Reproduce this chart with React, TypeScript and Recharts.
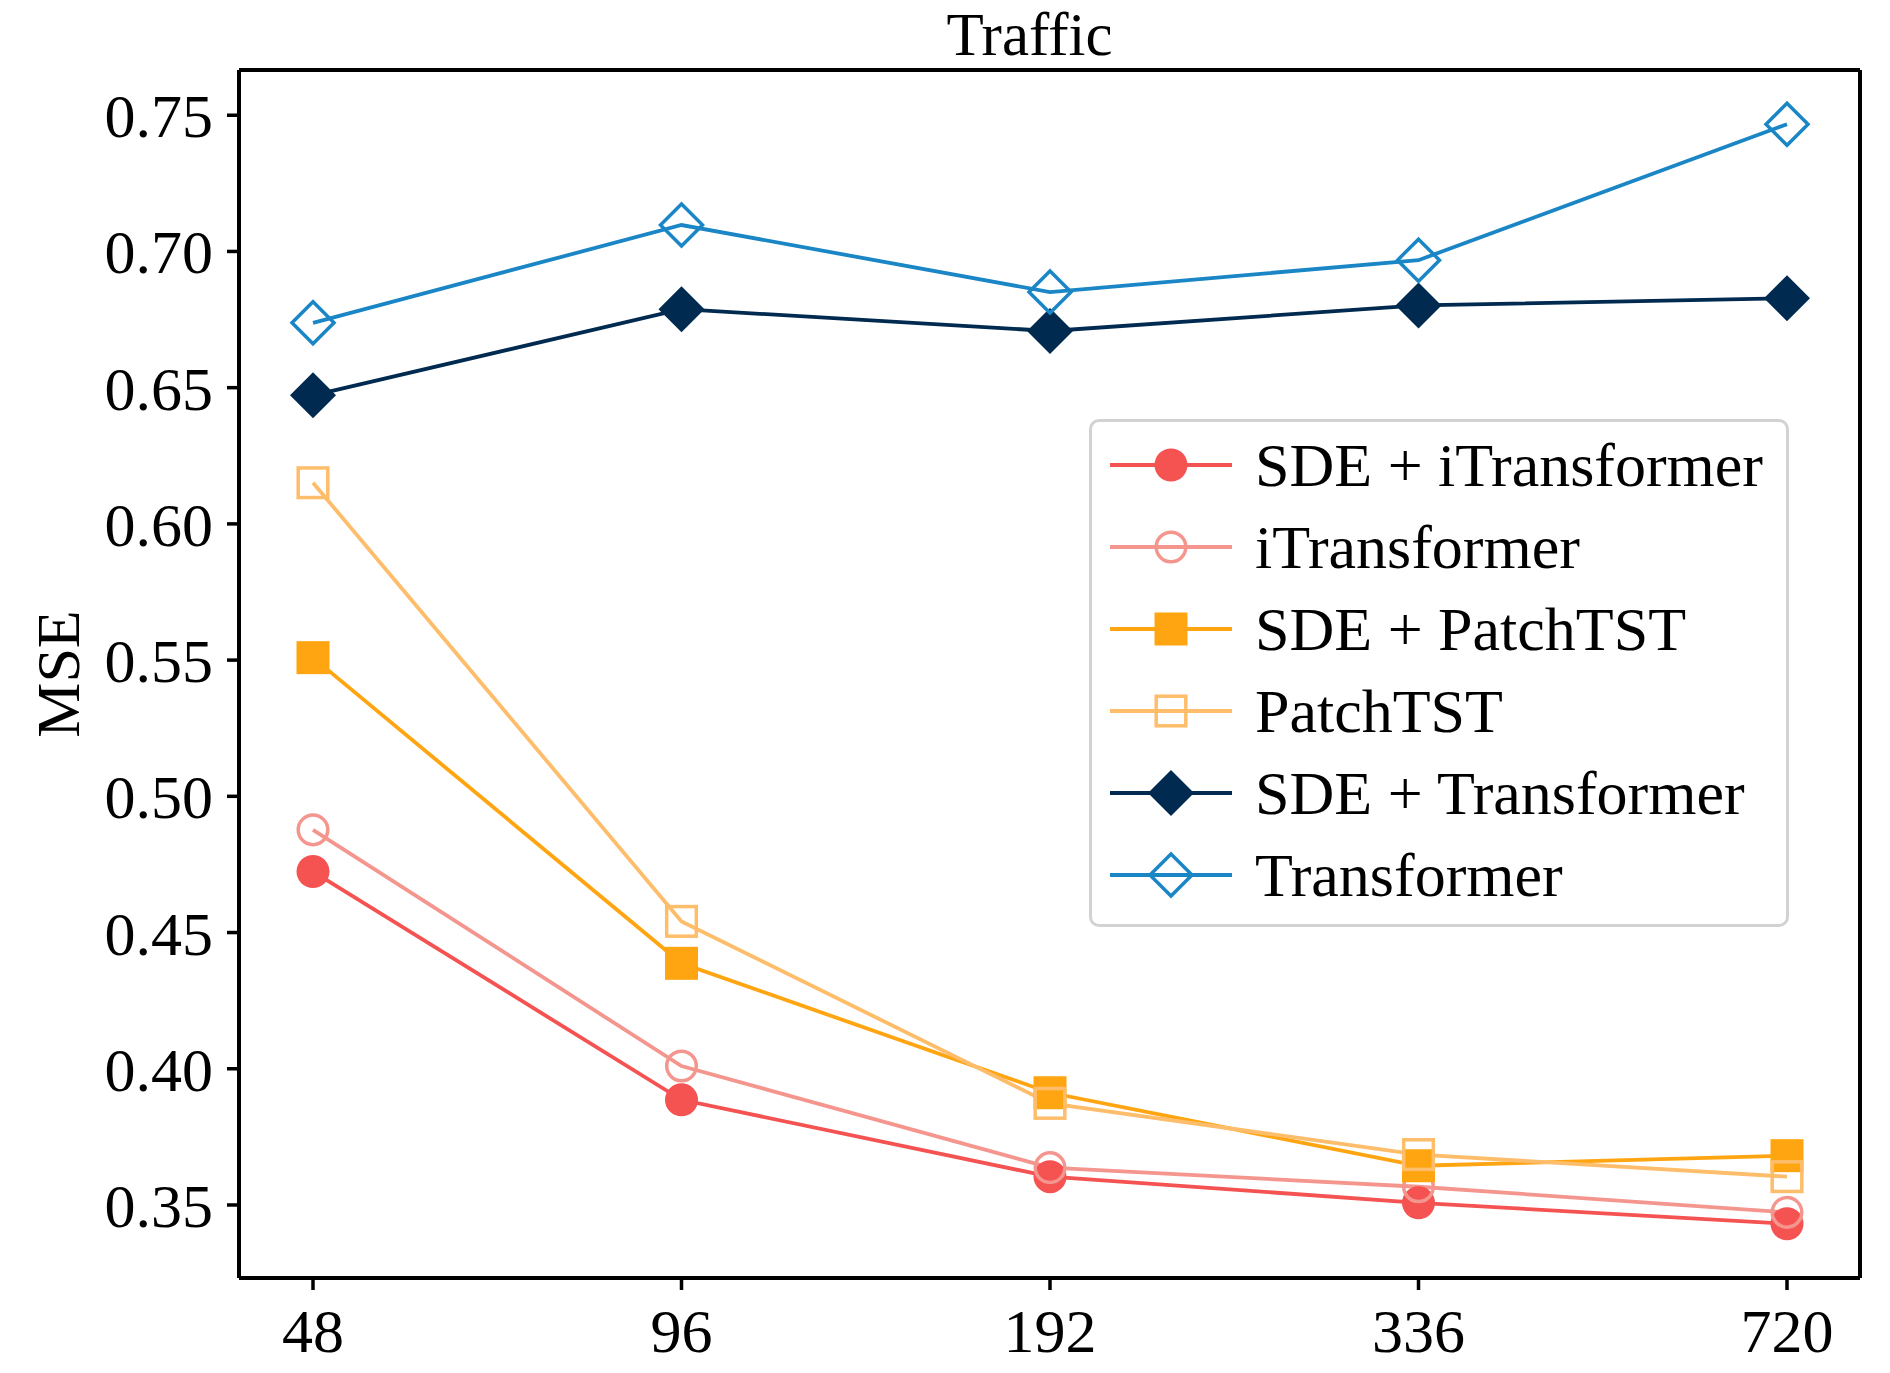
import React from "react"
import {
  LineChart,
  Line,
  XAxis,
  YAxis,
  Legend,
} from "recharts"

const FONT = '"Liberation Serif", "Times New Roman", serif'

// prediction horizons on the x axis
const horizons = ["48", "96", "192", "336", "720"]
const yTicks = [0.35, 0.4, 0.45, 0.5, 0.55, 0.6, 0.65, 0.7, 0.75]

// MSE per horizon
const sdeITransformer = [0.4724, 0.3886, 0.3604, 0.3508, 0.3431]
const iTransformer = [0.4877, 0.401, 0.3637, 0.3567, 0.3473]
const sdePatchTST = [0.5509, 0.4387, 0.3912, 0.3644, 0.3681]
const patchTST = [0.6151, 0.4541, 0.3873, 0.3685, 0.3604]
const sdeTransformer = [0.6472, 0.6788, 0.6708, 0.6802, 0.6828]
const transformer = [0.6738, 0.7097, 0.6851, 0.6968, 0.7467]

type Shape = "circle" | "square" | "diamond"

interface SeriesDef {
  key: string
  name: string
  values: number[]
  color: string
  shape: Shape
  filled: boolean
}

const series: SeriesDef[] = [
  { key: "sdeITransformer", name: "SDE + iTransformer", values: sdeITransformer, color: "#F55252", shape: "circle", filled: true },
  { key: "iTransformer", name: "iTransformer", values: iTransformer, color: "#F4968E", shape: "circle", filled: false },
  { key: "sdePatchTST", name: "SDE + PatchTST", values: sdePatchTST, color: "#FFA512", shape: "square", filled: true },
  { key: "patchTST", name: "PatchTST", values: patchTST, color: "#FEBD6A", shape: "square", filled: false },
  { key: "sdeTransformer", name: "SDE + Transformer", values: sdeTransformer, color: "#012A50", shape: "diamond", filled: true },
  { key: "transformer", name: "Transformer", values: transformer, color: "#1A86C6", shape: "diamond", filled: false },
]

const data = horizons.map((h, i) => {
  const row: Record<string, string | number> = { horizon: h }
  series.forEach((s) => {
    row[s.key] = s.values[i]
  })
  return row
})

function Marker({
  cx,
  cy,
  shape,
  filled,
  color,
}: {
  cx: number
  cy: number
  shape: Shape
  filled: boolean
  color: string
}) {
  const sw = 3.5
  if (shape === "circle") {
    return filled ? (
      <circle cx={cx} cy={cy} r={16.5} fill={color} />
    ) : (
      <circle cx={cx} cy={cy} r={14.8} fill="none" stroke={color} strokeWidth={sw} />
    )
  }
  if (shape === "square") {
    const h = filled ? 16.5 : 14.8
    return filled ? (
      <rect x={cx - h} y={cy - h} width={h * 2} height={h * 2} fill={color} />
    ) : (
      <rect x={cx - h} y={cy - h} width={h * 2} height={h * 2} fill="none" stroke={color} strokeWidth={sw} />
    )
  }
  const d = filled ? 23 : 21
  const pts = `${cx},${cy - d} ${cx + d},${cy} ${cx},${cy + d} ${cx - d},${cy}`
  return filled ? (
    <polygon points={pts} fill={color} />
  ) : (
    <polygon points={pts} fill="none" stroke={color} strokeWidth={sw} />
  )
}

function LegendBox() {
  return (
    <div
      style={{
        boxSizing: "border-box",
        width: 700,
        height: 508,
        border: "3px solid #d2d2d2",
        borderRadius: 10,
        background: "rgba(255,255,255,0.85)",
        padding: "2px 0 8px 0",
        fontFamily: FONT,
      }}
    >
      {series.map((s) => (
        <div key={s.key} style={{ display: "flex", alignItems: "center", height: 82 }}>
          <svg width={163} height={82} style={{ flex: "none" }}>
            <line x1={18} x2={140} y1={41} y2={41} stroke={s.color} strokeWidth={3.8} />
            <Marker cx={79} cy={41} shape={s.shape} filled={s.filled} color={s.color} />
          </svg>
          <span style={{ fontSize: 62, color: "#000", lineHeight: "82px", whiteSpace: "nowrap" }}>{s.name}</span>
        </div>
      ))}
    </div>
  )
}

export default function App() {
  const tickStyle = { fill: "#000", fontSize: 62, fontFamily: FONT }
  const axisLine = { stroke: "#000", strokeWidth: 4 }
  const tickLine = { stroke: "#000", strokeWidth: 3.5 }
  const domain: [number, number] = [0.3232, 0.7666]

  return (
    <div style={{ position: "absolute", left: 0, top: 0, background: "#fff" }}>
      <LineChart
        width={1890}
        height={1373}
        data={data}
        margin={{ top: 69, right: 29, left: 59, bottom: 0 }}
      >
        <XAxis
          dataKey="horizon"
          type="category"
          padding={{ left: 74, right: 73 }}
          height={95}
          tick={tickStyle}
          tickSize={12}
          tickMargin={18}
          axisLine={axisLine}
          tickLine={tickLine}
        />
        <XAxis
          xAxisId="top"
          orientation="top"
          dataKey="horizon"
          type="category"
          padding={{ left: 74, right: 73 }}
          height={1}
          tick={false}
          tickLine={false}
          axisLine={axisLine}
          label={{
            position: "top",
            content: (p: any) => (
              <text
                x={p.viewBox.x + p.viewBox.width / 2 - 20}
                y={p.viewBox.y - 14}
                textAnchor="middle"
                fontSize={61}
                fontFamily={FONT}
                fill="#000"
              >
                Traffic
              </text>
            ),
          }}
        />
        <YAxis
          type="number"
          domain={domain}
          ticks={yTicks}
          allowDataOverflow
          width={180}
          tick={tickStyle}
          tickSize={12}
          tickMargin={14}
          tickFormatter={(v: number) => v.toFixed(2)}
          axisLine={axisLine}
          tickLine={tickLine}
          label={{
            position: "insideLeft",
            content: (p: any) => {
              const x = p.viewBox.x - 1
              const y = p.viewBox.y + p.viewBox.height / 2
              return (
                <text
                  x={x}
                  y={y}
                  transform={`rotate(-90 ${x} ${y})`}
                  textAnchor="middle"
                  dominantBaseline="central"
                  fontSize={62}
                  fontFamily={FONT}
                  fill="#000"
                >
                  MSE
                </text>
              )
            },
          }}
        />
        <YAxis
          yAxisId="right"
          orientation="right"
          type="number"
          domain={domain}
          allowDataOverflow
          width={1}
          tick={false}
          tickLine={false}
          axisLine={axisLine}
        />
        {series.map((s) => (
          <Line
            key={s.key}
            dataKey={s.key}
            name={s.name}
            type="linear"
            stroke={s.color}
            strokeWidth={3.8}
            isAnimationActive={false}
            activeDot={false}
            dot={(p: any) => (
              <Marker
                key={`${s.key}-${p.index}`}
                cx={p.cx}
                cy={p.cy}
                shape={s.shape}
                filled={s.filled}
                color={s.color}
              />
            )}
          />
        ))}
        <Legend
          layout="vertical"
          align="center"
          verticalAlign="middle"
          content={() => <LegendBox />}
          wrapperStyle={{ left: 1089, top: 419, width: 700, height: 508 }}
        />
      </LineChart>
    </div>
  )
}
